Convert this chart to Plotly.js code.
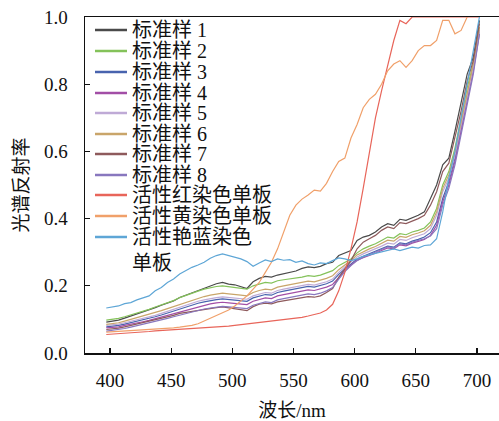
<!DOCTYPE html>
<html>
<head>
<meta charset="utf-8">
<script src="https://cdn.plot.ly/plotly-3.0.1.min.js"></script>
<style>html,body{margin:0;padding:0;background:#fff;}#chart{width:499px;height:421px;}</style>
</head>
<body>
<div id="chart"></div>
<script>
const wavelength = [397,402,407,412,417,422,427,432,437,442,447,452,457,462,467,472,477,482,487,492,497,502,507,512,517,522,527,532,537,542,547,552,557,562,567,572,577,582,587,592,597,602,607,612,617,622,627,632,637,642,647,652,657,662,667,672,677,682,687,692,697,702];

const seriesNames = ["标准样 1","标准样 2","标准样 3","标准样 4","标准样 5","标准样 6","标准样 7","标准样 8","活性红染色单板","活性黄染色单板","活性艳蓝染色单板"];

const s1 = [0.092,0.095,0.098,0.104,0.110,0.115,0.121,0.128,0.135,0.142,0.148,0.155,0.165,0.172,0.180,0.186,0.193,0.200,0.206,0.210,0.205,0.203,0.198,0.192,0.212,0.222,0.228,0.226,0.232,0.236,0.240,0.244,0.252,0.256,0.254,0.258,0.266,0.270,0.290,0.298,0.305,0.335,0.345,0.350,0.360,0.375,0.385,0.380,0.398,0.395,0.402,0.410,0.420,0.460,0.500,0.560,0.580,0.660,0.740,0.830,0.880,0.990];
const s2 = [0.098,0.100,0.103,0.108,0.113,0.118,0.124,0.130,0.137,0.143,0.150,0.156,0.165,0.172,0.178,0.184,0.190,0.195,0.198,0.200,0.197,0.196,0.193,0.190,0.200,0.206,0.210,0.208,0.215,0.218,0.220,0.222,0.226,0.230,0.228,0.232,0.238,0.245,0.260,0.270,0.280,0.298,0.310,0.318,0.325,0.335,0.345,0.342,0.355,0.352,0.360,0.365,0.372,0.390,0.430,0.500,0.540,0.610,0.700,0.790,0.860,0.970];
const s3 = [0.078,0.079,0.082,0.086,0.090,0.094,0.098,0.103,0.108,0.113,0.119,0.125,0.131,0.137,0.143,0.148,0.152,0.156,0.159,0.161,0.159,0.158,0.155,0.154,0.164,0.170,0.174,0.172,0.180,0.184,0.187,0.190,0.194,0.198,0.196,0.200,0.206,0.214,0.234,0.250,0.265,0.280,0.288,0.295,0.302,0.310,0.318,0.315,0.328,0.325,0.333,0.338,0.345,0.358,0.390,0.460,0.510,0.580,0.670,0.760,0.850,0.960];
const s4 = [0.075,0.076,0.078,0.082,0.085,0.089,0.093,0.097,0.102,0.107,0.112,0.117,0.122,0.127,0.133,0.138,0.142,0.146,0.149,0.151,0.149,0.148,0.145,0.144,0.154,0.160,0.164,0.162,0.170,0.174,0.177,0.180,0.184,0.188,0.186,0.190,0.196,0.204,0.226,0.245,0.262,0.276,0.284,0.290,0.297,0.305,0.313,0.310,0.322,0.319,0.327,0.332,0.338,0.350,0.380,0.450,0.500,0.570,0.660,0.750,0.840,0.950];
const s5 = [0.082,0.083,0.086,0.090,0.094,0.098,0.102,0.107,0.112,0.118,0.124,0.130,0.137,0.143,0.149,0.154,0.158,0.162,0.165,0.167,0.165,0.164,0.161,0.160,0.170,0.176,0.180,0.178,0.186,0.190,0.193,0.196,0.200,0.204,0.202,0.206,0.212,0.220,0.240,0.256,0.270,0.286,0.295,0.302,0.310,0.318,0.327,0.324,0.338,0.335,0.343,0.348,0.355,0.370,0.410,0.480,0.520,0.590,0.680,0.770,0.850,0.960];
const s6 = [0.085,0.087,0.090,0.095,0.100,0.104,0.109,0.114,0.120,0.126,0.132,0.138,0.146,0.152,0.158,0.163,0.168,0.172,0.176,0.178,0.176,0.175,0.172,0.170,0.180,0.186,0.190,0.188,0.196,0.200,0.203,0.206,0.210,0.214,0.212,0.216,0.222,0.230,0.248,0.262,0.275,0.292,0.302,0.310,0.317,0.327,0.336,0.333,0.347,0.344,0.352,0.357,0.364,0.380,0.420,0.490,0.530,0.600,0.690,0.780,0.860,0.970];
const s7 = [0.070,0.071,0.074,0.078,0.082,0.086,0.090,0.095,0.100,0.104,0.108,0.112,0.118,0.121,0.124,0.128,0.130,0.133,0.135,0.137,0.134,0.132,0.128,0.126,0.138,0.145,0.148,0.146,0.152,0.155,0.158,0.162,0.165,0.168,0.166,0.170,0.180,0.192,0.225,0.250,0.275,0.310,0.330,0.340,0.350,0.365,0.375,0.370,0.388,0.385,0.392,0.400,0.410,0.440,0.480,0.540,0.565,0.640,0.720,0.810,0.870,0.980];
const s8 = [0.065,0.067,0.070,0.073,0.077,0.081,0.085,0.089,0.094,0.098,0.103,0.108,0.113,0.118,0.123,0.127,0.131,0.134,0.137,0.139,0.137,0.136,0.133,0.132,0.142,0.148,0.152,0.150,0.158,0.162,0.165,0.168,0.172,0.176,0.174,0.178,0.185,0.195,0.220,0.242,0.260,0.275,0.285,0.292,0.300,0.308,0.316,0.313,0.325,0.322,0.330,0.335,0.340,0.348,0.370,0.440,0.490,0.560,0.650,0.740,0.830,0.950];
const redDyed = [0.055,0.056,0.057,0.058,0.060,0.061,0.063,0.064,0.066,0.067,0.069,0.070,0.072,0.073,0.074,0.075,0.076,0.077,0.078,0.079,0.080,0.082,0.084,0.087,0.089,0.091,0.093,0.095,0.097,0.098,0.100,0.103,0.106,0.110,0.114,0.119,0.128,0.145,0.185,0.240,0.310,0.390,0.490,0.600,0.700,0.780,0.860,0.930,0.990,0.980,1.000,1.000,1.000,1.000,1.000,1.000,1.000,1.000,1.000,1.000,1.000,1.000];
const yellowDyed = [0.062,0.063,0.064,0.065,0.066,0.067,0.068,0.070,0.071,0.072,0.074,0.075,0.077,0.079,0.082,0.087,0.095,0.104,0.112,0.120,0.128,0.140,0.155,0.170,0.190,0.210,0.240,0.270,0.310,0.360,0.410,0.440,0.458,0.470,0.485,0.482,0.505,0.540,0.570,0.580,0.640,0.680,0.730,0.755,0.770,0.800,0.840,0.860,0.870,0.850,0.870,0.900,0.915,0.915,0.930,0.990,0.990,0.950,0.960,1.000,1.020,1.030];
const blueDyed = [0.134,0.136,0.140,0.147,0.150,0.158,0.163,0.170,0.185,0.195,0.210,0.220,0.235,0.245,0.255,0.262,0.270,0.282,0.290,0.295,0.290,0.285,0.280,0.272,0.258,0.268,0.277,0.272,0.280,0.276,0.278,0.270,0.274,0.266,0.262,0.268,0.266,0.275,0.283,0.280,0.275,0.280,0.288,0.292,0.296,0.300,0.305,0.310,0.305,0.310,0.315,0.312,0.320,0.322,0.340,0.420,0.520,0.600,0.700,0.800,0.900,1.000];

const seriesValues = [s1,s2,s3,s4,s5,s6,s7,s8,redDyed,yellowDyed,blueDyed];
const seriesColors = ["#4a4a4a","#84c25a","#4863ae","#a24ea6","#bfaad6","#c9a56a","#8e5a5c","#8877be","#e8655a","#f0a06a","#5ea6d6"];

const xTickVals = [400,450,500,550,600,650,700];
const yTickVals = [0.0,0.2,0.4,0.6,0.8,1.0];

const FONT = "'Liberation Serif', 'Noto Sans CJK SC', serif";

const traces = seriesValues.map((vals, i) => ({
  type: 'scatter', mode: 'lines', x: wavelength, y: vals, name: seriesNames[i],
  line: {color: seriesColors[i], width: 1.2}, showlegend: false
}));

// Legend drawn as annotations + short line shapes (paper coordinates)
const L = 85, R = 499, T = 17, B = 353;
const px2x = p => (p - L) / (R - L);
const py2y = p => (B - p) / (B - T);
const rowCenters = [30,51,72,93,113,134,154,175,195,216,237];
const shapes = [], annotations = [];
seriesNames.forEach((n, i) => {
  shapes.push({type:'line', xref:'paper', yref:'paper', x0:px2x(95), x1:px2x(127), y0:py2y(rowCenters[i]), y1:py2y(rowCenters[i]), line:{color:seriesColors[i], width:2.5}});
  const isLast = i === seriesNames.length - 1;
  annotations.push({
    xref:'paper', yref:'paper', x:px2x(130), y:py2y(rowCenters[i] - (isLast ? 13 : 0)),
    xanchor:'left', yanchor: isLast ? 'top' : 'middle', align:'left', showarrow:false,
    text: isLast ? '活性艳蓝染色<br>单板' : n,
    font:{family:FONT, size:20, color:'#111'}
  });
});

const layout = {
  width: 499, height: 421,
  margin: {l: L, r: 0, t: T, b: 421 - B, pad: 0},
  paper_bgcolor: '#fff', plot_bgcolor: '#fff',
  font: {family: FONT, size: 19, color: '#111'},
  xaxis: {
    range: [379.6, 718.0], tickvals: xTickVals, ticks: 'inside', ticklen: 5, tickwidth: 1.2, tickcolor: '#111',
    showline: true, linecolor: '#111', linewidth: 1.5, mirror: true, showgrid: false, zeroline: false,
    tickfont: {family: FONT, size: 19}, ticklabelstandoff: 10,
    title: {text: '波长/nm', font: {family: FONT, size: 19}, standoff: 13}
  },
  yaxis: {
    range: [0, 1], tickvals: yTickVals, tickformat: '.1f', ticks: 'inside', ticklen: 5, tickwidth: 1.2, tickcolor: '#111',
    showline: true, linecolor: '#111', linewidth: 1.5, showgrid: false, zeroline: false,
    tickfont: {family: FONT, size: 19}, ticklabelstandoff: 12,
    title: {text: '光谱反射率', font: {family: FONT, size: 19}, standoff: 10}
  },
  shapes: shapes, annotations: annotations
};

Plotly.newPlot('chart', traces, layout, {staticPlot: true, displayModeBar: false});
</script>
</body>
</html>
